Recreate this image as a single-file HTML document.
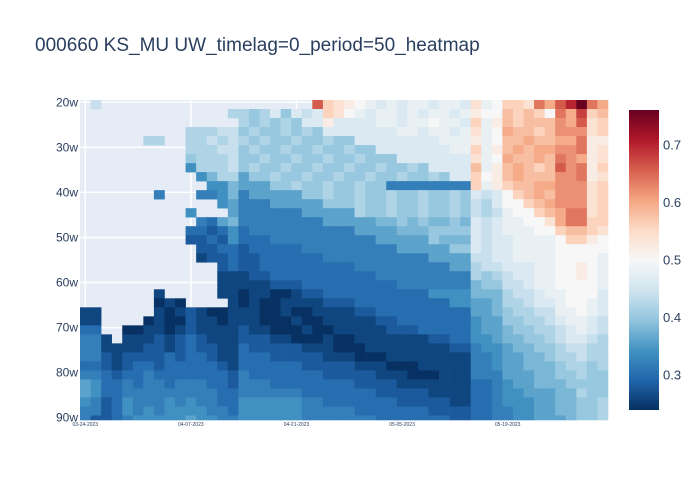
<!DOCTYPE html>
<html><head><meta charset="utf-8">
<style>
html,body{margin:0;padding:0;background:#fff;}
svg{display:block;font-family:"Liberation Sans",Arial,sans-serif;}
</style></head>
<body>
<svg id="chart" width="700" height="500" viewBox="0 0 700 500">
  <rect x="0" y="0" width="700" height="500" fill="#fff"/>
  <text x="35" y="51" font-size="19" fill="#2a3f5f">000660 KS_MU UW_timelag=0_period=50_heatmap</text>
  <rect x="80" y="100" width="528" height="320" fill="#e5ecf6"/>
  <g id="grid"></g>
  <g id="cells"></g>
  <g id="yaxis"></g>
  <g id="xaxis"></g>
  <defs>
    <linearGradient id="cbgrad" x1="0" y1="1" x2="0" y2="0"></linearGradient>
  </defs>
  <g id="colorbar"></g>
</svg>
<script>
// ---- data ----
// 50 trading-day columns; rows are 2-week bins from 20w to 90w.
// code: a=0.24 ... z=0.74 (step 0.02), '#'=0.76, '.'=no data
const rowWeeks = [20,22,24,26,28,30,32,34,36,38,40,42,44,46,48,50,52,54,56,58,60,62,64,66,68,70,72,74,76,78,80,82,84,86,88,90];
const rowCodes = [
".k........"+"....."+".......vqponmlmlmmlmml"+"pmn"+"qqpusvx#us",
".........."+"....j"+"jijlilklqpnmlmmlmlmmlm"+"onn"+"rqrqnuswqr",
".........."+"....."+"jijijillollllmmlmmnmml"+"qmo"+"rqrrrtsvpq",
".........."+"jjjkk"+"ijiijijilllllllmmlmmlm"+"pmn"+"srrqrtttpq",
"......jj.."+"jjkjk"+"jijiijiijiillllllllmmm"+"omn"+"rrsrrssuoo",
".........."+"jjjkk"+"ijiijiijiijiilllllllmm"+"qmo"+"rsrssttuop",
".........."+"ijjjk"+"iijiijiijiijiiilllllll"+"pmn"+"srrsrutsop",
".........."+"fjjjk"+"ijiijiijiijiijiijillll"+"rmo"+"rsrqrvtuoq",
".........."+".fhjj"+"giijiijiijiijiijiijill"+"qno"+"rsrrrttuop",
".........."+"..ffh"+"gggiijiijiijiieeeeeeee"+"qmo"+"qrrsstttpq",
".......e.."+".eefh"+"egggggiijiijiijiijiiji"+"lkl"+"nqrsrtttpq",
".........."+"...fg"+"eeegggggiiijiijiijiiji"+"kjl"+"nnqrstttpq",
".........."+"f...g"+"eeeeeegggggjiijiijiiji"+"kjk"+"mnnqrsuupq",
".........."+".edgh"+"eeeeeeeeggggghhihihhih"+"lkl"+"mmnnpsuuqq",
".........."+"ddcdf"+"deeeeeeeeeegggghhhiiii"+"lkl"+"mmmnnqrrqp",
".........."+"ccdcf"+"dddeeeeeeeeeegggggihhh"+"lkl"+"lmmmmnqqon",
".........."+".ccdd"+"cdddddeeeeeeeeegggggii"+"lkl"+"lmmmmnnnnn",
".........."+".bccd"+"ccddddddeeeeeeeeeegggg"+"kkl"+"lmmmmnnnnm",
".........."+"...cd"+"ccdddddddddeeeeeeeeegg"+"jkk"+"lllmmnnonm",
".........."+"...bb"+"bccddddddddddeeeeeeeee"+"jij"+"kllmmnnonm",
".........."+"...bb"+"bbbcccdddddddddeeeeeee"+"hii"+"kklmmnnnnm",
".......b.."+"...bb"+"abbaabccddddddddddffff"+"hhh"+"jkklmmnnnl",
".......aba"+"....b"+"abaabbbbcccdddddddddff"+"ggh"+"jjkllmnnml",
"bb.....bab"+"cbaab"+"bbaabaabbbbccddddddddd"+"ggh"+"ijjkkmmnml",
"bb....abaa"+"cbbab"+"bbaaabaabbbbbccddddddd"+"fgg"+"iijjklmmlk",
"dd..aabbab"+"cbbbb"+"cbbaaabaabbbbbcccddddd"+"fgg"+"hiijjklmlk",
"eeb.bbbcbc"+"dcbbb"+"cccbbaaabaabbbbbbbccdd"+"ffg"+"hhiijkllkj",
"eebbbbccbc"+"dccbb"+"dcccccbbbaaabbbbbbbbcc"+"eff"+"ghhiijkkjj",
"eecbccccdc"+"ddcbb"+"dddcccccbbbaaabbbbbbbb"+"eef"+"gghhijjkjj",
"ddcbcddcdd"+"dddcb"+"ddddddcccccbbbaaabbbbb"+"eef"+"gghhhijjij",
"eedcddeddd"+"ddddc"+"edddddddcccccbbbaaabbb"+"eee"+"ggghhiijii",
"gfddedeede"+"eeddc"+"eeeddddddddccccbbbbbbb"+"dde"+"fgghhhiiii",
"gfddeeeeee"+"eeedd"+"eeeeeedddddddcccccbbbb"+"dde"+"ffggghhjii",
"fecdfeeefe"+"feedd"+"ffffffeedddddddcccccbb"+"dde"+"fffgghhiij",
"eecdfefeff"+"ffeed"+"ffffffeeeeedddddddcccc"+"dde"+"effgghhiij",
"eccdefffff"+"gffee"+"ffffffeeeeeeedddddddcc"+"dde"+"effggghiij"
];
const xTickLabels = ["03-24-2023","04-07-2023","04-21-2023","05-05-2023","05-19-2023"];
const xTickCols = [0.5,10.5,20.5,30.5,40.5];
const yTickLabels = ["20w","30w","40w","50w","60w","70w","80w","90w"];
const yTickWeeks = [20,30,40,50,60,70,80,90];
const cbTickValues = [0.3,0.4,0.5,0.6,0.7];

// ---- scales ----
const NS = "http://www.w3.org/2000/svg";
const X0 = 80, X1 = 608, Y0 = 100, Y1 = 420, NCOL = 50;
const W0 = 19.5, W1 = 90.5;
const ZMIN = 0.239, ZMAX = 0.761;
function xCol(c){ return X0 + (X1 - X0) * c / NCOL; }
function yWeek(w){ return Y0 + (Y1 - Y0) * (w - W0) / (W1 - W0); }
function codeVal(ch){
  if (ch === '.') return null;
  if (ch === '#') return 0.76;
  return 0.24 + (ch.charCodeAt(0) - 97) * 0.02;
}
const stops = [[5,48,97],[33,102,172],[67,147,195],[146,197,222],[209,229,240],[247,247,247],[253,219,199],[244,165,130],[214,96,77],[178,24,43],[103,0,31]];
function color(v){
  let t = (v - ZMIN) / (ZMAX - ZMIN); t = Math.max(0, Math.min(1, t));
  const p = t * 10, i = Math.min(9, Math.floor(p)), f = p - i;
  const a = stops[i], b = stops[i+1];
  return "rgb(" + [0,1,2].map(k => Math.round(a[k] + (b[k]-a[k])*f)).join(",") + ")";
}
function mk(tag, attrs, parent){
  const e = document.createElementNS(NS, tag);
  for (const k in attrs) e.setAttribute(k, attrs[k]);
  parent.appendChild(e); return e;
}

// grid
const grid = document.getElementById("grid");
yTickWeeks.forEach(w => {
  const l = mk("line", {x1:X0, x2:X1, y1:yWeek(w), y2:yWeek(w), stroke:"#fff", "stroke-width":1.5}, grid);
  
  
});
xTickCols.forEach(c => {
  const l = mk("line", {x1:xCol(c), x2:xCol(c), y1:Y0, y2:Y1, stroke:"#fff", "stroke-width":1.5}, grid);
  
  
});

// cells
const cells = document.getElementById("cells");
rowCodes.forEach((code, r) => {
  const wk = rowWeeks[r];
  const yTop = Math.max(Y0, yWeek(wk - 0.5));
  const yBot = Math.min(Y1, yWeek(wk + 1.5));
  for (let c = 0; c < NCOL; c++) {
    const v = codeVal(code[c] || '.');
    if (v === null) continue;
    const rc = mk("rect", {x:xCol(c).toFixed(2), y:yTop.toFixed(2), width:(xCol(c+1)-xCol(c)+0.3).toFixed(2), height:(yBot-yTop+0.3).toFixed(2), fill:color(v)}, cells);
    
    
  }
});

// y axis
const ya = document.getElementById("yaxis");
yTickLabels.forEach((lab, i) => {
  const t = mk("text", {x:78, y:yWeek(yTickWeeks[i]) + 4, "text-anchor":"end", "font-size":12, fill:"#2a3f5f"}, ya);
  t.textContent = lab;
  
  
});
// x axis
const xa = document.getElementById("xaxis");
xTickLabels.forEach((lab, i) => {
  const t = mk("text", {x:xCol(xTickCols[i]), y:426, "text-anchor":"middle", "font-size":5, fill:"#2a3f5f"}, xa);
  t.textContent = lab;
  
  
});

// colorbar
const grad = document.getElementById("cbgrad");
for (let i = 0; i <= 10; i++) {
  mk("stop", {offset:(i*10)+"%", "stop-color":"rgb("+stops[i].join(",")+")"}, grad);
}
const cb = document.getElementById("colorbar");
const CBY0 = 110, CBY1 = 410;
function cbY(v){ return CBY1 - (CBY1 - CBY0) * (v - ZMIN) / (ZMAX - ZMIN); }
const bar = mk("rect", {x:629, y:CBY0, width:30, height:CBY1-CBY0, fill:"url(#cbgrad)"}, cb);


cbTickValues.forEach(v => {
  const t = mk("text", {x:663, y:cbY(v)+4.5, "font-size":13, fill:"#2a3f5f"}, cb);
  t.textContent = v.toFixed(1);
  
  
});
</script>
</body></html>
